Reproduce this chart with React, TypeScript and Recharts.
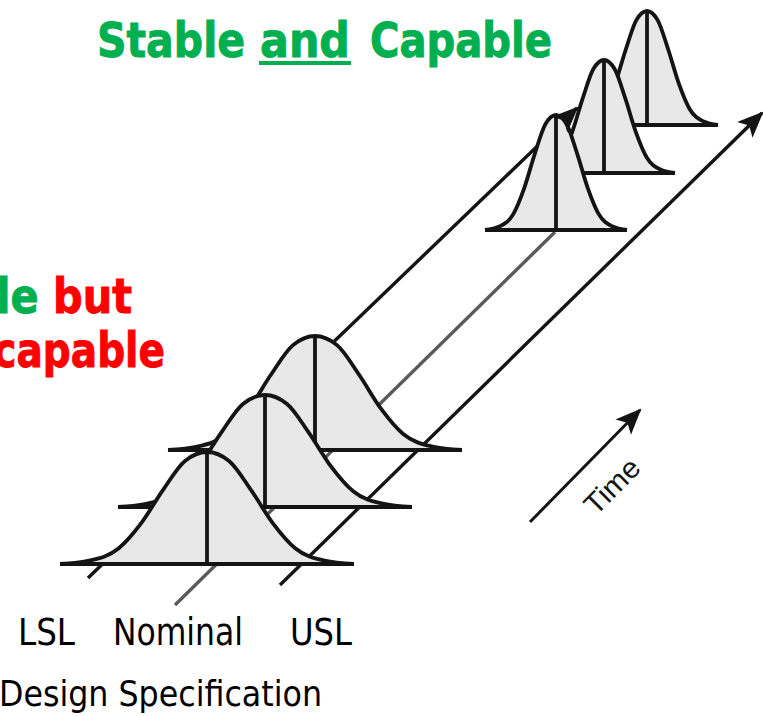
import React from 'react';
import {
  ComposedChart, Area, Line, Scatter, XAxis, YAxis, Customized,
} from 'recharts';

const W = 763;
const H = 716;

// bell outline: offset from centre (in half-widths) and height (share of peak)
const bellOffsets = [-1, -0.8, -0.6, -0.45, -0.3, -0.15, 0, 0.15, 0.3, 0.45, 0.6, 0.8, 1];
const bellHeights = [0, 0.03, 0.14, 0.36, 0.66, 0.92, 1, 0.92, 0.66, 0.36, 0.14, 0.03, 0];

// lower group, stable but incapable (back to front)
const wideCentres = [315, 265, 207];
const wideBases = [450, 507, 564];
const widePeaks = [336, 395, 452];
const wideHalfWidth = 147;

// upper group, stable and capable (back to front)
const narrowCentres = [647, 604, 556];
const narrowBases = [125, 173, 230];
const narrowPeaks = [11, 60, 115];
const narrowHalfWidth = 71;

// rails: LSL, Nominal, USL and the Time arrow
const railNames = ['LSL', 'Nominal', 'USL', 'Time'];
const railStartX = [88, 175, 280, 530];
const railStartY = [578, 605, 585, 522];
const railEndX = [577, 555, 762, 640];
const railEndY = [108, 232, 113, 410];
const railHasArrow = [true, false, true, true];

const colors = {
  ink: '#141414',
  nominal: '#5a5a5a',
  fill: '#e8e8e8',
  green: '#00B050',
  red: '#FF0000',
};

const makeBell = (centre, base, peak, halfWidth) => {
  return bellOffsets.map((o, i) => {
    return { x: centre + o * halfWidth, v: [base, base - (base - peak) * bellHeights[i]] };
  });
};

const makeStem = (centre, base, peak) => {
  return [{ x: centre, y: base }, { x: centre, y: peak }];
};

const wideBells = wideCentres.map((c, i) => {
  return {
    bell: makeBell(c, wideBases[i], widePeaks[i], wideHalfWidth),
    stem: makeStem(c, wideBases[i], widePeaks[i]),
  };
});
const narrowBells = narrowCentres.map((c, i) => {
  return {
    bell: makeBell(c, narrowBases[i], narrowPeaks[i], narrowHalfWidth),
    stem: makeStem(c, narrowBases[i], narrowPeaks[i]),
  };
});

const rails = railNames.map((name, i) => {
  return {
    name,
    points: [{ x: railStartX[i], y: railStartY[i] }, { x: railEndX[i], y: railEndY[i] }],
    angle: (Math.atan2(railEndY[i] - railStartY[i], railEndX[i] - railStartX[i]) * 180) / Math.PI,
  };
});

const arrowTips = rails
  .filter((r, i) => { return railHasArrow[i]; })
  .map((r) => { return { x: r.points[1].x, y: r.points[1].y, angle: r.angle }; });

const ArrowHead = (props) => {
  const { cx, cy, payload } = props;
  return (
    <path
      transform={`translate(${cx},${cy}) rotate(${payload.angle})`}
      d="M2,0 L-24,-11 L-18,0 L-24,11 Z"
      fill={colors.ink}
    />
  );
};

const Word = ({
  x, y, len, size, bold = false, fill = '#000', anchor = 'start', family = 'DejaVu Sans', children,
}) => {
  return (
    <text
      x={x}
      y={y}
      textLength={len}
      lengthAdjust="spacingAndGlyphs"
      fontSize={size}
      fontWeight={bold ? 700 : 400}
      fill={fill}
      stroke={bold ? fill : 'none'}
      strokeWidth={bold ? 1 : 0}
      textAnchor={anchor}
      fontFamily={family}
    >
      {children}
    </text>
  );
};

const Labels = () => {
  return (
    <g>
      {/* title */}
      <Word x={97} y={57} len={148} size={48} bold fill={colors.green}>Stable</Word>
      <Word x={260} y={57} len={90} size={48} bold fill={colors.green}>and</Word>
      <rect x={259} y={61} width={92} height={4} fill={colors.green} />
      <Word x={370} y={57} len={182} size={48} bold fill={colors.green}>Capable</Word>

      {/* left caption, partly outside the frame */}
      <text
        x={132}
        y={313}
        textAnchor="end"
        textLength={243}
        lengthAdjust="spacingAndGlyphs"
        fontSize={48}
        fontWeight={700}
        fontFamily="DejaVu Sans"
        strokeWidth={1}
      >
        <tspan fill={colors.green} stroke={colors.green}>Stable </tspan>
        <tspan fill={colors.red} stroke={colors.red}>but</tspan>
      </text>
      <Word x={165} y={367} len={214} size={48} bold fill={colors.red} anchor="end">Incapable</Word>

      {/* specification labels */}
      <Word x={18} y={645} len={57} size={37}>LSL</Word>
      <Word x={113} y={645} len={130} size={37}>Nominal</Word>
      <Word x={290} y={645} len={62} size={37}>USL</Word>
      <Word x={-1} y={706} len={323} size={36}>Design Specification</Word>

      <text
        x={612}
        y={486}
        transform="rotate(-45 612 486)"
        textAnchor="middle"
        dominantBaseline="central"
        fontSize={29}
        fontFamily="Liberation Sans"
        fill={colors.ink}
        textLength={66}
        lengthAdjust="spacingAndGlyphs"
      >
        Time
      </text>
    </g>
  );
};

const renderBell = (b, key, z) => {
  return [
    <Area
      key={`${key}-area`}
      data={b.bell}
      dataKey="v"
      type="monotone"
      fill={colors.fill}
      fillOpacity={1}
      stroke={colors.ink}
      strokeWidth={3.8}
      strokeLinejoin="round"
      dot={false}
      activeDot={false}
      isAnimationActive={false}
      zIndex={z}
    />,
    <Line
      key={`${key}-stem`}
      data={b.stem}
      dataKey="y"
      type="linear"
      stroke={colors.ink}
      strokeWidth={3.8}
      dot={false}
      activeDot={false}
      isAnimationActive={false}
      zIndex={z + 1}
    />,
  ];
};

const App = () => {
  return (
    <div style={{ position: 'absolute', left: 0, top: 0, background: '#fff' }}>
      <ComposedChart width={W} height={H} margin={{ top: 0, right: 0, bottom: 0, left: 0 }}>
        <XAxis type="number" dataKey="x" domain={[0, W]} allowDataOverflow hide />
        <YAxis type="number" domain={[0, H]} reversed allowDataOverflow hide />

        {renderBell(narrowBells[0], 'n0', 10)}
        {renderBell(narrowBells[1], 'n1', 12)}

        {rails.map((r, i) => {
          return (
            <Line
              key={r.name}
              data={r.points}
              dataKey="y"
              type="linear"
              stroke={r.name === 'Nominal' ? colors.nominal : colors.ink}
              strokeWidth={r.name === 'Time' ? 3 : 3.4}
              dot={false}
              activeDot={false}
              isAnimationActive={false}
              zIndex={20 + i}
            />
          );
        })}

        {renderBell(wideBells[0], 'w0', 30)}
        {renderBell(wideBells[1], 'w1', 32)}
        {renderBell(wideBells[2], 'w2', 34)}
        {renderBell(narrowBells[2], 'n2', 36)}

        <Scatter
          data={arrowTips}
          dataKey="y"
          shape={ArrowHead}
          isAnimationActive={false}
          zIndex={50}
        />
        <Customized component={Labels} />
      </ComposedChart>
    </div>
  );
};

export default App;
